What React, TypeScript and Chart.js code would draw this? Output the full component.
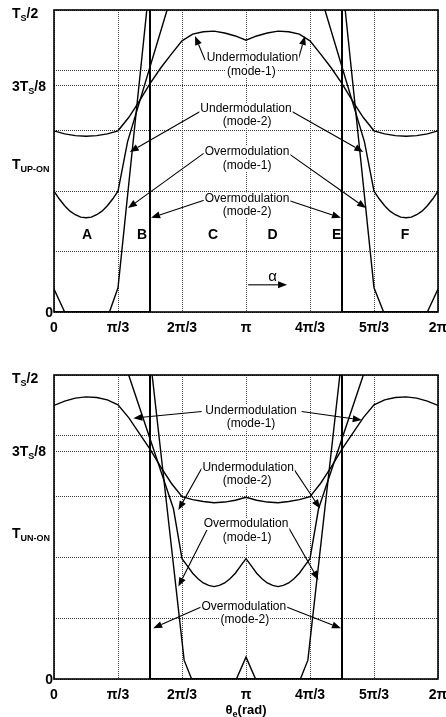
import React, { useEffect, useRef } from 'react';
import { Chart, registerables } from 'chart.js';

Chart.register(...registerables);

const FONT = '"Liberation Sans", Arial, Helvetica, sans-serif';

type Pt = [number, number];

// ---------- shared axes (θe in degrees, times in units of Ts) ----------
const angleTicks = [0, 60, 120, 180, 240, 300, 360];
const angleTickLabels = ['0', 'π/3', '2π/3', 'π', '4π/3', '5π/3', '2π'];
const gridLevels = [0, 0.1, 0.2, 0.3, 0.375, 0.4, 0.5];

// ---------- upper panel: T_UP-ON ----------
const upYLabelValues = [0.5, 0.375, 0.245, 0];
const upYLabelTexts = ['T_{S}/2', '3T_{S}/8', 'T_{UP-ON}', '0'];

const upUnderMode1: Pt[] = [
  [0, 0.300], [10, 0.295], [20, 0.292], [30, 0.291], [40, 0.292], [50, 0.295], [60, 0.300],
  [70, 0.322], [80, 0.349], [90, 0.378], [100, 0.404], [110, 0.427], [120, 0.449],
  [130, 0.460], [140, 0.464], [150, 0.465], [160, 0.462], [170, 0.457], [180, 0.450],
  [190, 0.457], [200, 0.462], [210, 0.465], [220, 0.464], [230, 0.460], [240, 0.449],
  [250, 0.427], [260, 0.404], [270, 0.378], [280, 0.349], [290, 0.322], [300, 0.300],
  [310, 0.295], [320, 0.292], [330, 0.291], [340, 0.292], [350, 0.295], [360, 0.300],
];
const upUnderMode2: Pt[] = [
  [0, 0.200], [5, 0.187], [10, 0.176], [15, 0.167], [20, 0.161], [25, 0.157], [30, 0.156],
  [35, 0.157], [40, 0.161], [45, 0.167], [50, 0.176], [55, 0.187], [60, 0.200],
  [69, 0.282], [106, 0.500], [113, 0.540], [247, 0.540], [254, 0.500], [291, 0.282],
  [300, 0.200], [305, 0.187], [310, 0.176], [315, 0.167], [320, 0.161], [325, 0.157],
  [330, 0.156], [335, 0.157], [340, 0.161], [345, 0.167], [350, 0.176], [355, 0.187], [360, 0.200],
];
const upOverMode1: Pt[] = [
  [0, 0.038], [10, 0], [52, 0], [60, 0.040], [87, 0.500], [91, 0.560],
  [269, 0.560], [273, 0.500], [300, 0.040], [309, 0], [350, 0], [360, 0.038],
];
const upOverMode2: Pt[] = [[0, 0], [90, 0], [90, 0.56], [270, 0.56], [270, 0], [360, 0]];

const upNoteTexts = [
  'Undermodulation', '(mode-1)', 'Undermodulation', '(mode-2)',
  'Overmodulation', '(mode-1)', 'Overmodulation', '(mode-2)',
];
const upNoteAt: Pt[] = [
  [186, 0.421], [185, 0.398], [180, 0.336], [181, 0.315],
  [181, 0.266], [181, 0.243], [181, 0.188], [181, 0.166],
];
const upArrowFrom: Pt[] = [
  [141.6, 0.417], [228.8, 0.417], [139, 0.334], [221, 0.334],
  [140.6, 0.263], [219.4, 0.263], [140.6, 0.185], [219.4, 0.185], [182, 0.045],
];
const upArrowTo: Pt[] = [
  [132.2, 0.457], [235.3, 0.457], [71, 0.265], [290, 0.265],
  [69.4, 0.172], [292.5, 0.172], [91, 0.156], [269, 0.156], [218.5, 0.045],
];
const upLetterTexts = ['A', 'B', 'C', 'D', 'E', 'F', 'α'];
const upLetterAt: Pt[] = [
  [31, 0.1275], [82.5, 0.1275], [149, 0.1275], [205, 0.1275], [265, 0.1275], [329, 0.1275], [205, 0.058],
];

// ---------- lower panel: T_UN-ON ----------
const unYLabelValues = [0.5, 0.375, 0.240, 0];
const unYLabelTexts = ['T_{S}/2', '3T_{S}/8', 'T_{UN-ON}', '0'];

const unUnderMode1: Pt[] = [
  [0, 0.450], [10, 0.457], [20, 0.462], [30, 0.464], [40, 0.463], [50, 0.459], [60, 0.451],
  [70, 0.430], [80, 0.404], [90, 0.378], [100, 0.349], [110, 0.322], [120, 0.300],
  [130, 0.295], [140, 0.292], [150, 0.290], [160, 0.291], [170, 0.294], [180, 0.299],
  [190, 0.294], [200, 0.291], [210, 0.290], [220, 0.292], [230, 0.295], [240, 0.300],
  [250, 0.322], [260, 0.349], [270, 0.378], [280, 0.404], [290, 0.430], [300, 0.451],
  [310, 0.459], [320, 0.463], [330, 0.464], [340, 0.462], [350, 0.457], [360, 0.450],
];
const unUnderMode2: Pt[] = [
  [65, 0.540], [70, 0.500], [112, 0.280], [120, 0.198], [125, 0.186], [130, 0.174],
  [135, 0.165], [140, 0.158], [145, 0.154], [150, 0.152], [155, 0.154], [160, 0.158],
  [165, 0.165], [170, 0.174], [175, 0.186], [180, 0.198], [185, 0.186], [190, 0.174],
  [195, 0.165], [200, 0.158], [205, 0.154], [210, 0.152], [215, 0.154], [220, 0.158],
  [225, 0.165], [230, 0.174], [235, 0.186], [240, 0.198], [248, 0.280], [290, 0.500], [295, 0.540],
];
const unOverMode1: Pt[] = [
  [88, 0.560], [92, 0.500], [122, 0.031], [129, 0], [171, 0], [180, 0.036], [189, 0],
  [231, 0], [238, 0.031], [268, 0.500], [272, 0.560],
];
const unOverMode2: Pt[] = [[0, 0.56], [90, 0.56], [90, 0], [270, 0], [270, 0.56], [360, 0.56]];

const unNoteTexts = upNoteTexts;
const unNoteAt: Pt[] = [
  [184.7, 0.4416], [184.7, 0.4202], [182, 0.348], [181, 0.3257],
  [180, 0.2549], [181, 0.2319], [178, 0.1184], [179, 0.0979],
];
const unArrowFrom: Pt[] = [
  [138.5, 0.440], [232.2, 0.440], [138.5, 0.3465], [224.4, 0.3465],
  [145.6, 0.253], [218.7, 0.253], [138.5, 0.119], [217.5, 0.119],
];
const unArrowTo: Pt[] = [
  [74.4, 0.429], [288.5, 0.426], [116.6, 0.278], [249.4, 0.2805],
  [116.6, 0.152], [247.8, 0.163], [93, 0.0835], [269, 0.0835],
];
const unAxisTitle = 'θ_{e}(rad)';

// ---------- drawing helpers ----------
type Seg = { t: string; sub: boolean };
function parseRich(s: string): Seg[] {
  const out: Seg[] = [];
  const re = /_\{([^}]*)\}|([^_]+)/g;
  let m: RegExpExecArray | null;
  while ((m = re.exec(s))) {
    if (m[1] !== undefined) out.push({ t: m[1], sub: true });
    else out.push({ t: m[2], sub: false });
  }
  return out;
}
function drawRich(ctx: CanvasRenderingContext2D, s: string, x: number, y: number, align: string, size: number, subSize: number, weight: string) {
  const segs = parseRich(s);
  let total = 0;
  const ws: number[] = [];
  segs.forEach((g) => {
    ctx.font = `${weight} ${g.sub ? subSize : size}px ${FONT}`;
    const w = ctx.measureText(g.t).width;
    ws.push(w);
    total += w;
  });
  let cx = align === 'left' ? x : align === 'right' ? x - total : x - total / 2;
  ctx.textAlign = 'left';
  ctx.textBaseline = 'alphabetic';
  segs.forEach((g, i) => {
    ctx.font = `${weight} ${g.sub ? subSize : size}px ${FONT}`;
    ctx.fillText(g.t, cx, g.sub ? y + 3 : y);
    cx += ws[i];
  });
}
function drawArrow(ctx: CanvasRenderingContext2D, x1: number, y1: number, x2: number, y2: number) {
  const a = Math.atan2(y2 - y1, x2 - x1);
  const L = 9, W = 3.5;
  const bx = x2 - L * Math.cos(a), by = y2 - L * Math.sin(a);
  ctx.beginPath();
  ctx.moveTo(x1, y1);
  ctx.lineTo(bx, by);
  ctx.stroke();
  ctx.beginPath();
  ctx.moveTo(x2, y2);
  ctx.lineTo(bx + W * Math.sin(a), by - W * Math.cos(a));
  ctx.lineTo(bx - W * Math.sin(a), by + W * Math.cos(a));
  ctx.closePath();
  ctx.fill();
}

type PanelCfg = {
  width: number;
  height: number;
  padding: { left: number; right: number; top: number; bottom: number };
  series: Pt[][];
  seriesWidths: number[];
  yLabelValues: number[];
  yLabelTexts: string[];
  noteTexts: string[];
  noteAt: Pt[];
  arrowFrom: Pt[];
  arrowTo: Pt[];
  letterTexts?: string[];
  letterAt?: Pt[];
  axisTitle?: string;
};

function Panel({ cfg }: { cfg: PanelCfg }) {
  const ref = useRef<HTMLCanvasElement | null>(null);
  useEffect(() => {
    if (!ref.current) return;
    const overlay = {
      id: 'overlay',
      afterDraw(chart: any) {
        const { ctx, chartArea: ca, scales } = chart;
        const X = (v: number) => scales.x.getPixelForValue(v);
        const Y = (v: number) => scales.y.getPixelForValue(v);
        ctx.save();
        ctx.strokeStyle = '#000';
        ctx.fillStyle = '#000';
        ctx.lineWidth = 1.6;
        ctx.strokeRect(ca.left, ca.top, ca.right - ca.left, ca.bottom - ca.top);
        // x tick labels
        angleTicks.forEach((t, i) => drawRich(ctx, angleTickLabels[i], X(t), ca.bottom + 20, 'center', 14, 9, 'bold'));
        // y labels
        cfg.yLabelValues.forEach((v, i) => {
          const txt = cfg.yLabelTexts[i];
          const py = Y(v);
          if (v === 0) drawRich(ctx, txt, ca.left - 1, py + 5, 'right', 14, 9, 'bold');
          else drawRich(ctx, txt, 12, Math.max(py + 5, ca.top + 7.5), 'left', 14, 9, 'bold');
        });
        // arrows
        ctx.lineWidth = 1.1;
        cfg.arrowFrom.forEach((f, i) => {
          const t = cfg.arrowTo[i];
          drawArrow(ctx, X(f[0]), Y(f[1]), X(t[0]), Y(t[1]));
        });
        // notes with white background
        ctx.font = `12px ${FONT}`;
        ctx.textAlign = 'center';
        ctx.textBaseline = 'middle';
        cfg.noteTexts.forEach((s, i) => {
          const [a, b] = cfg.noteAt[i];
          const x = X(a), y = Y(b);
          const w = ctx.measureText(s).width;
          ctx.fillStyle = '#fff';
          ctx.fillRect(x - w / 2 - 1, y - 6, w + 2, 12);
          ctx.fillStyle = '#000';
          ctx.fillText(s, x, y);
        });
        // region letters
        if (cfg.letterTexts && cfg.letterAt) {
          cfg.letterTexts.forEach((s, i) => {
            const [a, b] = cfg.letterAt![i];
            ctx.font = s === 'α' ? `15px ${FONT}` : `bold 14px ${FONT}`;
            ctx.textAlign = 'center';
            ctx.textBaseline = 'middle';
            ctx.fillText(s, X(a), Y(b));
          });
        }
        if (cfg.axisTitle) {
          drawRich(ctx, cfg.axisTitle, X(180), ca.bottom + 35, 'center', 13, 9, 'bold');
        }
        ctx.restore();
      },
    };
    const chart = new Chart(ref.current, {
      type: 'line',
      data: {
        datasets: cfg.series.map((s, i) => ({
          data: s.map(([x, y]) => ({ x, y })),
          borderColor: '#000',
          borderWidth: cfg.seriesWidths[i],
          pointRadius: 0,
          tension: 0,
          fill: false,
        })),
      },
      options: {
        responsive: false,
        animation: false,
        events: [],
        layout: { padding: cfg.padding },
        plugins: { legend: { display: false }, tooltip: { enabled: false } },
        scales: {
          x: {
            type: 'linear',
            min: 0,
            max: 360,
            afterBuildTicks: (s: any) => { s.ticks = angleTicks.map((v) => ({ value: v })); },
            afterFit: (s: any) => { s.height = 0; },
            ticks: { display: false },
            grid: { color: '#444', lineWidth: 1, drawTicks: false },
            border: { display: false, dash: [1, 1] },
          },
          y: {
            type: 'linear',
            min: 0,
            max: 0.5,
            afterBuildTicks: (s: any) => { s.ticks = gridLevels.map((v) => ({ value: v })); },
            afterFit: (s: any) => { s.width = 0; },
            ticks: { display: false },
            grid: { color: '#333', lineWidth: 1, drawTicks: false },
            border: { display: false, dash: [1, 1] },
          },
        },
      } as any,
      plugins: [overlay],
    });
    return () => chart.destroy();
  }, [cfg]);
  return <canvas ref={ref} width={cfg.width} height={cfg.height} style={{ display: 'block' }} />;
}

const upCfg: PanelCfg = {
  width: 446,
  height: 340,
  padding: { left: 54, right: 8, top: 10, bottom: 28 },
  series: [upUnderMode1, upUnderMode2, upOverMode1, upOverMode2],
  seriesWidths: [1.4, 1.4, 1.4, 2],
  yLabelValues: upYLabelValues,
  yLabelTexts: upYLabelTexts,
  noteTexts: upNoteTexts,
  noteAt: upNoteAt,
  arrowFrom: upArrowFrom,
  arrowTo: upArrowTo,
  letterTexts: upLetterTexts,
  letterAt: upLetterAt,
};

const unCfg: PanelCfg = {
  width: 446,
  height: 377,
  padding: { left: 54, right: 8, top: 35, bottom: 38 },
  series: [unUnderMode1, unUnderMode2, unOverMode1, unOverMode2],
  seriesWidths: [1.4, 1.4, 1.4, 2],
  yLabelValues: unYLabelValues,
  yLabelTexts: unYLabelTexts,
  noteTexts: unNoteTexts,
  noteAt: unNoteAt,
  arrowFrom: unArrowFrom,
  arrowTo: unArrowTo,
  axisTitle: unAxisTitle,
};

export default function App() {
  return (
    <div style={{ position: 'absolute', left: 0, top: 0, width: 446, height: 717, background: '#fff' }}>
      <div style={{ position: 'absolute', left: 0, top: 0 }}>
        <Panel cfg={upCfg} />
      </div>
      <div style={{ position: 'absolute', left: 0, top: 340 }}>
        <Panel cfg={unCfg} />
      </div>
    </div>
  );
}
